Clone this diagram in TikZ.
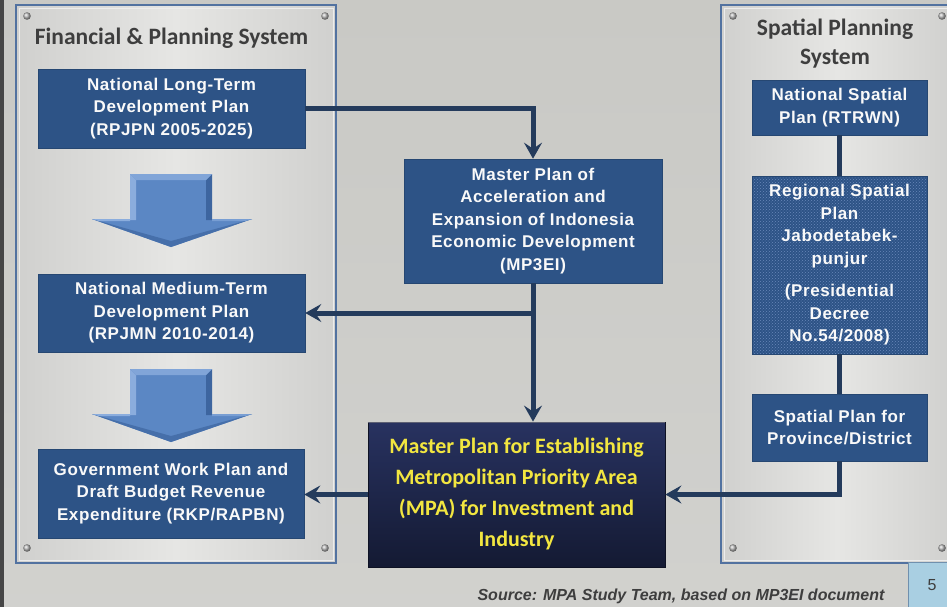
\documentclass[tikz,border=0pt]{standalone}
\usepackage{fontspec}
\setmainfont{Liberation Sans}
\newfontfamily\calfont{Carlito}
\newfontfamily\boxfont[LetterSpace=3.5]{Liberation Sans}
\usetikzlibrary{arrows.meta,patterns}
\definecolor{slidebg}{HTML}{C9C9C5}
\definecolor{panelA}{HTML}{D0D0CE}
\definecolor{panelB}{HTML}{E6E6E4}
\definecolor{panelline}{HTML}{5272A0}
\definecolor{boxblue}{HTML}{2D5386}
\definecolor{dotblue}{HTML}{6A88BA}
\definecolor{conn}{HTML}{243B5C}
\definecolor{mpatop}{HTML}{283260}
\definecolor{mpabot}{HTML}{141A33}
\definecolor{mpatext}{HTML}{F2E640}
\definecolor{titlegray}{HTML}{3E3E3E}
\definecolor{arrmain}{HTML}{5B87C4}
\definecolor{arrlight}{HTML}{8BADDD}
\definecolor{arrdark}{HTML}{3D659F}
\definecolor{pgblue}{HTML}{A9CFE2}
\definecolor{pgline}{HTML}{7090AE}
\begin{document}
\begin{tikzpicture}[x=1pt,y=-1pt,
  panel/.style={draw=panelline, line width=1.4pt, left color=panelA, right color=panelA, middle color=panelB},
  inpanel/.style={draw=white!85!gray, line width=0.8pt},
  rivet/.style={ball color=gray!55!white},
  bluebox/.style={fill=boxblue, draw=boxblue!85!black, line width=0.6pt, text=white!95!gray,
    font=\boxfont\bfseries\fontsize{17}{22.5}\selectfont, align=center, inner sep=0pt},
  dotbox/.style={bluebox, preaction={fill=boxblue}, pattern=crosshatch dots, pattern color=dotblue},
  mpabox/.style={top color=mpatop, bottom color=mpabot, draw=mpabot!70!black, line width=0.8pt,
    text=mpatext, font=\calfont\bfseries\fontsize{22}{31}\selectfont, align=center, inner sep=0pt},
  ptitle/.style={text=titlegray, font=\calfont\bfseries\fontsize{23.5}{29}\selectfont, align=center},
  link/.style={draw=conn, line width=5pt},
  arrowlink/.style={link, -{Stealth[length=16pt,width=18pt,inset=6pt]}},
  pics/downarrow/.style={code={
    \fill[arrmain] (-41,0) rectangle (41,46);
    \fill[arrmain] (-79,45) -- (81,45) -- (0,73) -- cycle;
    \fill[arrlight] (-41,0) -- (-35,6) -- (-35,46) -- (-41,46) -- cycle;
    \fill[arrdark] (41,0) -- (35,6) -- (35,46) -- (41,46) -- cycle;
    \fill[arrlight!80!arrmain] (-41,0) -- (41,0) -- (35,6) -- (-35,6) -- cycle;
    \fill[arrdark!70!arrmain] (-79,45) -- (0,73) -- (81,45) -- (0,67) -- cycle;
    \fill[arrlight] (-79,45) -- (-41,45) -- (-41,47) -- (-72,47) -- cycle;
    \fill[arrlight!60!arrmain] (81,45) -- (41,45) -- (41,47) -- (74,47) -- cycle;
  }}
]
\useasboundingbox (0,0) rectangle (947,607);
% background
\fill[top color=slidebg, bottom color=slidebg!85!white] (0,0) rectangle (947,607);
\fill[gray!55!black] (0,0) rectangle (4,607);

% panels
\path[panel] (16,5) rectangle (336,563);
\draw[inpanel] (19,8) rectangle (333,560);
\path[panel] (721,5) rectangle (953,563);
\draw[inpanel] (724,8) rectangle (950,560);
\foreach \p in {(27,16),(325,16),(27,548),(325,548),(733,16),(942,16),(733,548),(942,548)}
  \shade[rivet] \p circle[radius=3.8pt];

% titles
\node[ptitle] (t1) at (171.5,38) {Financial \& Planning System};
\node[ptitle] (t2) at (835,44) {Spatial Planning\\System};

% left column
\node[bluebox, minimum width=267pt, minimum height=79pt] (b1) at (171.5,108.5)
  {National Long-Term\\Development Plan\\(RPJPN 2005-2025)};
\node[bluebox, minimum width=267pt, minimum height=78pt] (b2) at (171.5,313)
  {National Medium-Term\\Development Plan\\(RPJMN 2010-2014)};
\node[bluebox, minimum width=266pt, minimum height=89pt] (b3) at (171,493.5)
  {Government Work Plan and\\Draft Budget Revenue\\Expenditure (RKP/RAPBN)};
\pic at (171,174) {downarrow};
\pic at (171,369) {downarrow};

% centre
\node[bluebox, minimum width=258pt, minimum height=124pt] (mp) at (533,221)
  {Master Plan of\\Acceleration and\\Expansion of Indonesia\\Economic Development\\(MP3EI)};
\node[mpabox, minimum width=297pt, minimum height=145pt] (mpa) at (516.5,494.5)
  {Master Plan for Establishing\\Metropolitan Priority Area\\(MPA) for Investment and\\Industry};
\draw[line width=1.2pt, mpatop!40!gray] ([yshift=-0.8pt]mpa.north west) -- ([yshift=-0.8pt]mpa.north east);

% right column
\node[bluebox, minimum width=175pt, minimum height=55pt] (nsp) at (839.5,107.5)
  {National Spatial\\Plan (RTRWN)};
\node[dotbox, minimum width=175pt, minimum height=178pt] (rsp) at (839.5,265)
  {Regional Spatial\\Plan\\Jabodetabek-\\punjur\\[10pt](Presidential\\Decree\\No.54/2008)};
\node[bluebox, minimum width=175pt, minimum height=67pt] (spp) at (839.5,427.5)
  {Spatial Plan for\\Province/District};

% connectors
\coordinate (j) at (mp.south |- b2.east);
\draw[arrowlink] (b1.east) -| (mp.north);
\draw[arrowlink] (mp.south) -- (mp.south |- mpa.north);
\draw[arrowlink] (j) -- (b2.east);
\draw[arrowlink] (mpa.west) -- (mpa.west -| b3.east);
\draw[link] (nsp.south) -- (rsp.north);
\draw[link] (rsp.south) -- (spp.north);
\draw[arrowlink] (spp.south) |- (mpa.east);

% footer
\node[text=titlegray, font=\bfseries\itshape\fontsize{16}{18}\selectfont] (src) at (681,596)
  {Source: MPA Study Team, based on MP3EI document};
\node[fill=pgblue, draw=pgline, line width=0.8pt, minimum width=48pt, minimum height=46pt,
  inner sep=0pt, text=titlegray, font=\fontsize{16}{18}\selectfont] (pg) at (932,585) {5};
\end{tikzpicture}
\end{document}
